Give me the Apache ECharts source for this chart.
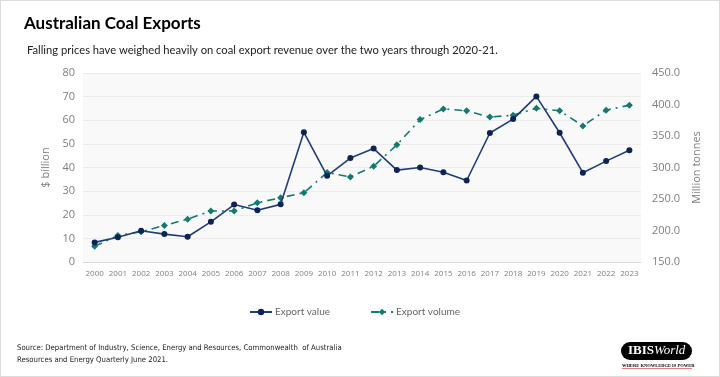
<!DOCTYPE html>
<html>
<head>
<meta charset="utf-8">
<script src="https://cdn.jsdelivr.net/npm/echarts@6/dist/echarts.min.js"></script>
<style>
  html, body { margin: 0; padding: 0; background: #fff; }
  #main { width: 720px; height: 377px; box-sizing: border-box; border: 1px solid #dcdcdc; }
</style>
</head>
<body>
<div id="main"></div>
<script>
var years = ['2000', '2001', '2002', '2003', '2004', '2005', '2006', '2007', '2008', '2009', '2010', '2011',
    '2012', '2013', '2014', '2015', '2016', '2017', '2018', '2019', '2020', '2021', '2022', '2023'];
// $ billion
var exportValue = [8.3, 10.5, 13.2, 11.8, 10.7, 17.0, 24.3, 21.9, 24.4, 54.9, 36.5, 44.0,
    48.0, 38.9, 40.0, 38.0, 34.5, 54.6, 60.5, 70.1, 54.7, 37.8, 42.7, 47.3];
// Million tonnes
var exportVolume = [175, 192, 198, 208, 218, 231, 231, 244, 252, 260, 292, 285,
    302, 336, 376, 393, 390, 380, 383, 394, 390, 366, 391, 399];

var myChart = echarts.init(document.getElementById('main'));
var grey = '#7f7f7f';
var font = '"Open Sans", "Noto Sans", sans-serif';
var lato = 'Lato, "Open Sans", sans-serif';

var option = {
    textStyle: { fontFamily: font },
    title: [{
        text: 'Australian Coal Exports',
        left: 18, top: 9,
        textStyle: { fontSize: 17, fontWeight: 'bold', color: '#000', fontFamily: lato }
    }, {
        text: 'Falling prices have weighed heavily on coal export revenue over the two years through 2020-21.',
        left: 21, top: 39,
        textStyle: { fontSize: 11.2, fontWeight: 'normal', color: '#222', fontFamily: lato }
    }],
    legend: {
        top: 301, left: 243,
        itemGap: 40, itemWidth: 22, itemHeight: 8,
        textStyle: { color: '#666', fontSize: 10, fontFamily: lato, padding: [0, 0, 0, -2] },
        data: ['Export value', 'Export volume']
    },
    grid: { left: 82, right: 78, top: 72, bottom: 114, backgroundColor: '#f9f9f9', show: true, borderWidth: 0 },
    xAxis: {
        type: 'category',
        data: years,
        axisTick: { show: false },
        axisLine: { lineStyle: { color: '#d9d9d9' } },
        axisLabel: { color: grey, fontSize: 8, margin: 8, interval: 0 }
    },
    yAxis: [{
        type: 'value',
        min: 0, max: 80, interval: 10,
        name: '$ billion',
        nameLocation: 'middle', nameGap: 29, nameRotate: 90,
        nameTextStyle: { color: grey, fontSize: 11 },
        axisLabel: { color: grey, fontSize: 11 },
        splitLine: { lineStyle: { color: '#ececec' } }
    }, {
        type: 'value',
        min: 150, max: 450, interval: 50,
        name: 'Million tonnes',
        nameLocation: 'middle', nameGap: 43, nameRotate: 90,
        nameTextStyle: { color: grey, fontSize: 11 },
        axisLabel: { color: grey, fontSize: 11, margin: 11, formatter: function (v) { return v.toFixed(1); } },
        splitLine: { show: false }
    }],
    series: [{
        name: 'Export value',
        type: 'line',
        data: exportValue,
        yAxisIndex: 0,
        symbol: 'circle', symbolSize: 6,
        itemStyle: { color: '#0c2355' },
        lineStyle: { color: '#1f3d7a', width: 1.6 },
        z: 3
    }, {
        name: 'Export volume',
        type: 'line',
        data: exportVolume,
        yAxisIndex: 1,
        symbol: 'diamond', symbolSize: 7,
        itemStyle: { color: '#137a72' },
        lineStyle: { color: '#137a72', width: 1.6, type: [8, 5, 2, 5] },
        z: 2
    }],
    graphic: [{
        type: 'text', left: 16, top: 341,
        style: {
            text: 'Source: Department of Industry, Science, Energy and Resources, Commonwealth  of Australia\nResources and Energy Quarterly June 2021.',
            fill: '#222', fontSize: 7.7, lineHeight: 12,
            fontFamily: '"Liberation Sans Narrow", "DejaVu Sans Condensed", sans-serif'
        }
    }, {
        type: 'rect', left: 620, top: 341,
        shape: { width: 71, height: 18, r: 9 },
        style: { fill: '#000' }
    }, {
        type: 'text', left: 627, top: 343,
        style: {
            text: '{a|IBIS}{b|World}',
            rich: {
                a: { fill: '#fff', fontSize: 13, fontWeight: 'bold', fontFamily: '"Liberation Serif", serif' },
                b: { fill: '#fff', fontSize: 13, fontStyle: 'italic', fontFamily: '"Liberation Serif", serif' }
            }
        }
    }, {
        type: 'text', left: 621, top: 362,
        style: { text: 'WHERE KNOWLEDGE IS POWER', fill: '#000', fontSize: 4.5, fontWeight: 'bold', fontFamily: '"Liberation Serif", serif' }
    }, {
        type: 'rect', left: 621, top: 367,
        shape: { width: 70, height: 0.8 },
        style: { fill: '#d9534f' }
    }]
};

myChart.setOption(option);
</script>
</body>
</html>
